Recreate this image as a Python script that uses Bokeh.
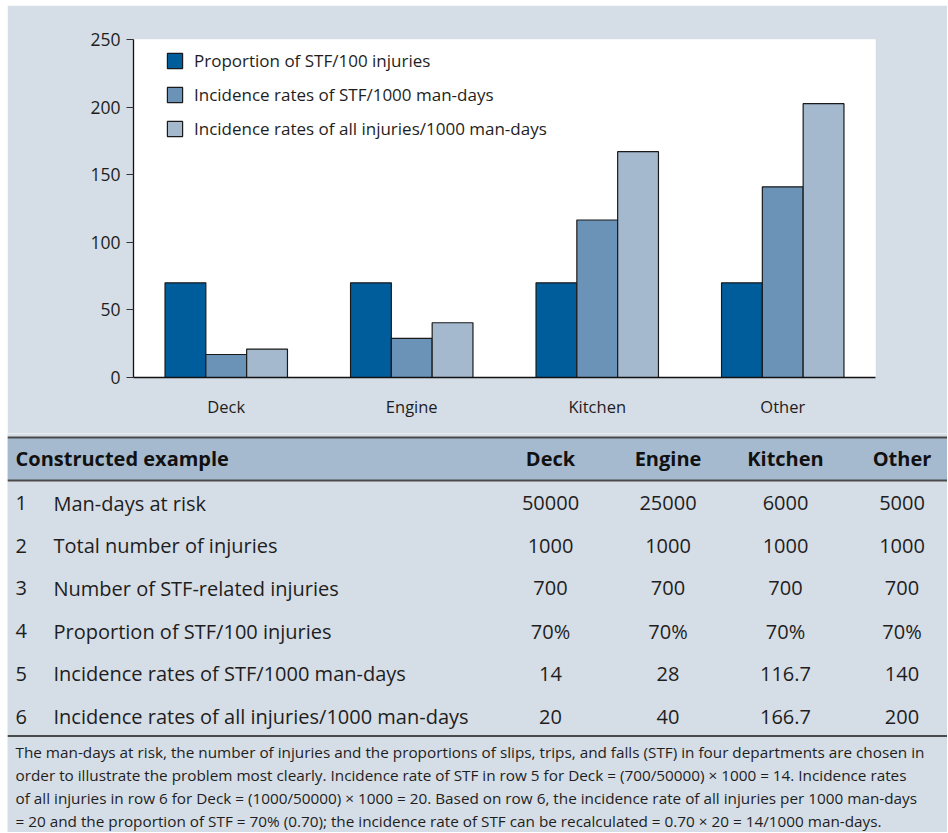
from bokeh.plotting import figure
from bokeh.models import Range1d, FactorRange, ColumnDataSource, Legend, LegendItem, FixedTicker
from bokeh.transform import dodge
from bokeh.embed import file_html
from bokeh.resources import INLINE
from bokeh.core.properties import value

# ---------------- data ----------------
departments = ["Deck", "Engine", "Kitchen", "Other"]
series_names = [
    "Proportion of STF/100 injuries",
    "Incidence rates of STF/1000 man-days",
    "Incidence rates of all injuries/1000 man-days",
]
proportion_stf = [70, 70, 70, 70]
stf_rate = [17, 29, 116.5, 141]
all_rate = [21, 40.5, 167, 202.5]
y_ticks = [0, 50, 100, 150, 200, 250]

table_title = "Constructed example"
row_numbers = ["1", "2", "3", "4", "5", "6"]
row_labels = [
    "Man-days at risk",
    "Total number of injuries",
    "Number of STF-related injuries",
    "Proportion of STF/100 injuries",
    "Incidence rates of STF/1000 man-days",
    "Incidence rates of all injuries/1000 man-days",
]
col_deck = ["50000", "1000", "700", "70%", "14", "20"]
col_engine = ["25000", "1000", "700", "70%", "28", "40"]
col_kitchen = ["6000", "1000", "700", "70%", "116.7", "166.7"]
col_other = ["5000", "1000", "700", "70%", "140", "200"]
footnote_lines = [
    "The man-days at risk, the number of injuries and the proportions of slips, trips, and falls (STF) in four departments are chosen in",
    "order to illustrate the problem most clearly. Incidence rate of STF in row 5 for Deck = (700/50000) \u00d7 1000 = 14. Incidence rates",
    "of all injuries in row 6 for Deck = (1000/50000) \u00d7 1000 = 20. Based on row 6, the incidence rate of all injuries per 1000 man-days",
    "= 20 and the proportion of STF = 70% (0.70); the incidence rate of STF can be recalculated = 0.70 \u00d7 20 = 14/1000 man-days.",
]

# ---------------- style ----------------
BG = "#d5dde6"
C1, C2, C3 = "#005d9c", "#6b93b7", "#a4b9ce"
BAND = "#a6bacf"
TXT = "#1e1e1e"
FONT = "Open Sans"
W = 940

# ---------------- chart ----------------
p = figure(x_range=FactorRange(*departments), y_range=Range1d(0, 250),
           frame_width=742, frame_height=338,
           min_border_left=126, min_border_right=72, min_border_top=34, min_border_bottom=56,
           output_backend="svg", toolbar_location=None,
           background_fill_color="white", border_fill_color=BG, outline_line_color=None)
p.margin = (5, 0, 0, 7)

src = ColumnDataSource(dict(dept=departments, s1=proportion_stf, s2=stf_rate, s3=all_rate))
bw = 0.22
rends = []
for col, off, c in [("s1", -bw, C1), ("s2", 0.0, C2), ("s3", bw, C3)]:
    r = p.vbar(x=dodge("dept", off, range=p.x_range), top=col, width=bw, source=src,
               fill_color=c, line_color="#1a1a1a", line_width=1.2)
    rends.append(r)

legend = Legend(items=[LegendItem(label=n, renderers=[r]) for n, r in zip(series_names, rends)],
                location=(32, 237), padding=0, margin=0, spacing=11,
                glyph_width=19, glyph_height=19, label_height=19, label_standoff=10,
                border_line_color=None, background_fill_alpha=0,
                label_text_font=FONT, label_text_font_size="17px", label_text_color=TXT)
p.add_layout(legend)

p.grid.visible = False
p.yaxis.ticker = FixedTicker(ticks=y_ticks)
p.yaxis.major_tick_out = 7
p.yaxis.major_tick_in = 0
p.yaxis.minor_tick_out = 0
p.yaxis.minor_tick_in = 0
p.yaxis.major_label_standoff = 6
p.xaxis.major_tick_out = 0
p.xaxis.major_tick_in = 0
p.xaxis.major_label_standoff = 17
for ax in (p.xaxis[0], p.yaxis[0]):
    ax.axis_line_color = "#111111"
    ax.axis_line_width = 1.3
    ax.major_tick_line_color = "#333333"
    ax.major_label_text_font = FONT
    ax.major_label_text_color = TXT
p.xaxis.major_label_text_font_size = "16.5px"
p.yaxis.major_label_text_font_size = "17.5px"

# ---------------- table ----------------
H2 = 399
t = figure(width=W, height=H2, x_range=Range1d(0, W), y_range=Range1d(H2, 0),
           output_backend="svg", toolbar_location=None, min_border=0,
           min_border_left=0, min_border_right=0, min_border_top=0, min_border_bottom=0,
           background_fill_color=BG, border_fill_color=BG, outline_line_color=None,
           x_axis_type=None, y_axis_type=None)
t.margin = (0, 0, 0, 7)
t.grid.visible = False

band_top, band_bot = 4, 47
t.quad(left=[0], right=[W], top=[band_top], bottom=[band_bot], fill_color=BAND, line_color=None)
row_y = [69.5 + 42.7 * i for i in range(len(row_labels))]
line_bot = 302.5
t.segment(x0=[0, 0, 0], x1=[W, W, W], y0=[band_top, band_bot, line_bot], y1=[band_top, band_bot, line_bot],
          line_color="#4a4a4a", line_width=2)

col_x = [543, 660.5, 778, 894.5]
head_y = (band_top + band_bot) / 2 - 1
t.text(x=[8], y=[head_y], text=[table_title], text_font=value(FONT),
       text_font_style="bold", text_font_size="20px", text_baseline="middle", text_color="#111111")
t.text(x=col_x, y=[head_y] * 4, text=departments, text_font=value(FONT),
       text_font_style="bold", text_font_size="20px", text_baseline="middle", text_align="center",
       text_color="#111111")
t.text(x=[8] * 6, y=row_y, text=row_numbers, text_font=value(FONT), text_font_size="20px",
       text_baseline="middle", text_color=TXT)
t.text(x=[46] * 6, y=row_y, text=row_labels, text_font=value(FONT), text_font_size="20px",
       text_baseline="middle", text_color=TXT)
for cx, vals in zip(col_x, [col_deck, col_engine, col_kitchen, col_other]):
    t.text(x=[cx] * 6, y=row_y, text=vals, text_font=value(FONT), text_font_size="20px",
           text_baseline="middle", text_align="center", text_color=TXT)

foot_y = [318 + 23.2 * i for i in range(len(footnote_lines))]
t.text(x=[8] * 4, y=foot_y, text=footnote_lines, text_font=value(FONT), text_font_size="15.3px",
       text_baseline="middle", text_color=TXT)

open("out.html", "w").write(file_html([p, t], INLINE))
